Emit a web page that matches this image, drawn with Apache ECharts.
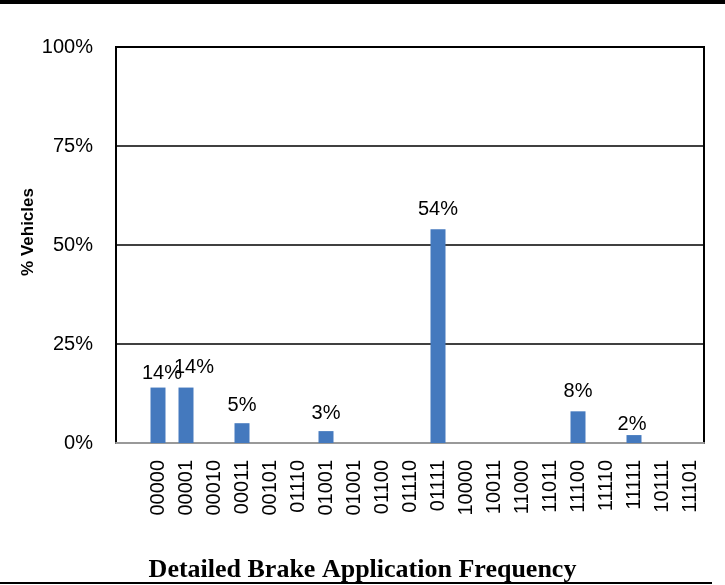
<!DOCTYPE html>
<html>
<head>
<meta charset="utf-8">
<script src="https://cdn.jsdelivr.net/npm/echarts@6/dist/echarts.min.js"></script>
<style>
  html, body { margin: 0; padding: 0; background: #fff; }
  #chart { width: 725px; height: 585px; }
</style>
</head>
<body>
<div id="chart"></div>
<script>
// Brake application patterns (leading blank slot keeps the first band empty)
const patterns = ['', '00000', '00001', '00010', '00011', '00101', '01110', '01001', '01001',
  '01100', '01110', '01111', '10000', '10011', '11000', '11011', '11100', '11110',
  '11111', '10111', '11101'];
// Share of vehicles per pattern, in percent (null = no bar)
const vehiclePct = [null, 14, 14, null, 5, null, null, 3, null,
  null, null, 54, null, null, null, null, 8, null,
  2, null, null];
// Value-axis ticks
const yTicks = [0, 25, 50, 75, 100];

// Small nudges for labels that sit off their default spot
const labelNudge = { 1: [4, 6], 2: [8, 0], 4: [0, 2], 7: [0, 2], 18: [-2, 9] };

const barData = vehiclePct.map((v, i) => {
  const item = { value: v };
  if (labelNudge[i]) item.label = { offset: labelNudge[i] };
  return item;
});

const chart = echarts.init(document.getElementById('chart'), null, { renderer: 'canvas' });

chart.setOption({
  animation: false,
  backgroundColor: '#fff',
  grid: { left: 116, right: 21, top: 47, bottom: 142, containLabel: false,
          show: true, borderColor: '#000', borderWidth: 2 },
  xAxis: {
    type: 'category',
    data: patterns,
    axisLine: { show: true, lineStyle: { color: '#999', width: 2 } },
    axisTick: { show: false },
    axisLabel: {
      interval: 0, rotate: 90, margin: 17,
      fontFamily: 'Liberation Sans, Arial, sans-serif', fontSize: 20, color: '#000'
    },
    splitLine: { show: false }
  },
  yAxis: {
    type: 'value',
    min: yTicks[0], max: yTicks[yTicks.length - 1], interval: 25,
    name: '% Vehicles',
    nameLocation: 'middle',
    nameGap: 79,
    nameMoveOverlap: false,
    nameTextStyle: { fontFamily: 'Liberation Sans, Arial, sans-serif', fontSize: 17,
                     fontWeight: 'bold', color: '#000', padding: [0, 0, 0, 26] },
    axisLine: { show: true, lineStyle: { color: '#000', width: 2 } },
    axisTick: { show: false },
    axisLabel: {
      margin: 23, formatter: v => v + '%',
      fontFamily: 'Liberation Sans, Arial, sans-serif', fontSize: 20, color: '#000'
    },
    splitLine: { show: true, lineStyle: { color: '#000', width: 1.5 } }
  },
  series: [{
    type: 'bar',
    data: barData,
    barWidth: 15,
    itemStyle: { color: '#4479be' },
    label: {
      show: true, position: 'top', distance: 10,
      formatter: p => p.value == null ? '' : p.value + '%',
      fontFamily: 'Liberation Sans, Arial, sans-serif', fontSize: 20, color: '#000'
    }
  }],
  graphic: [
    { type: 'rect', left: 0, top: 0, shape: { width: 725, height: 4 }, style: { fill: '#000' } },
    { type: 'rect', left: 0, top: 582, shape: { width: 712, height: 2 }, style: { fill: '#000' } },
    { type: 'text', left: 'center', top: 557,
      style: { text: 'Detailed Brake Application Frequency',
               font: 'bold 26px "Liberation Serif", "Times New Roman", serif', fill: '#000' } }
  ]
});
</script>
</body>
</html>
